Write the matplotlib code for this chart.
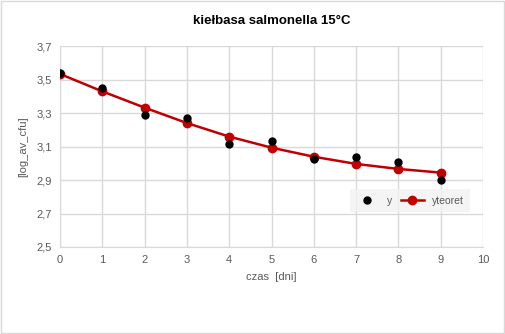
import matplotlib
matplotlib.use("Agg")
import matplotlib.pyplot as plt
from matplotlib.ticker import FuncFormatter, FixedLocator, MultipleLocator

# data
czas = [0, 1, 2, 3, 4, 5, 6, 7, 8, 9]
y_obs = [3.539, 3.447, 3.286, 3.272, 3.113, 3.131, 3.023, 3.035, 3.005, 2.898]
y_teoret = [3.533, 3.429, 3.332, 3.240, 3.159, 3.093, 3.039, 2.996, 2.966, 2.944]
y_ticks = [2.5, 2.7, 2.9, 3.1, 3.3, 3.5, 3.7]

TEXT = "#595959"
GRID = "#d9d9d9"
RED = "#c00000"

plt.rcParams["font.family"] = ["Liberation Sans Narrow", "Liberation Sans", "DejaVu Sans"]

fig = plt.figure(figsize=(5.05, 3.34), dpi=100)
ax = fig.add_axes([60 / 505, 87 / 334, 423 / 505, 201 / 334])

ax.plot(czas, y_teoret, color=RED, lw=1.8, marker="o", ms=6, zorder=3,
        label="yteoret")
ax.plot(czas, y_obs, ls="none", marker="o", color="black", ms=5, zorder=4,
        label="y")

ax.set_xlim(0, 10)
ax.set_ylim(2.5, 3.7)
ax.xaxis.set_major_locator(MultipleLocator(1))
ax.yaxis.set_major_locator(FixedLocator(y_ticks))
ax.yaxis.set_major_formatter(FuncFormatter(lambda v, _: f"{v:.1f}".replace(".", ",")))
ax.grid(True, color=GRID, lw=1)
ax.set_axisbelow(True)

for s in ["top", "right"]:
    ax.spines[s].set_visible(False)
for s in ["left", "bottom"]:
    ax.spines[s].set_color(GRID)
ax.tick_params(length=0, colors=TEXT, labelsize=8, pad=6)

ax.set_xlabel("czas  [dni]", color=TEXT, fontsize=8, labelpad=5)
ax.set_ylabel("[log_av_cfu]", color=TEXT, fontsize=8, labelpad=6)
ax.set_title("kiełbasa salmonella 15°C", color="black", fontsize=9.5,
             fontweight="bold", pad=16)

handles, labels = ax.get_legend_handles_labels()
leg = ax.legend(handles[::-1], labels[::-1], loc="lower right",
                bbox_to_anchor=(0.962, 0.19), ncol=2, frameon=True,
                fontsize=7.5, labelcolor=TEXT, handlelength=2.2,
                handletextpad=0.8, columnspacing=0.8, borderpad=0.3,
                borderaxespad=0)
leg.get_frame().set_facecolor("#f2f2f2")
leg.get_frame().set_edgecolor("none")
leg.get_frame().set_boxstyle("square")

# light frame round the whole chart
fig.patches.append(plt.Rectangle((0.002, 0.003), 0.996, 0.994,
                                 transform=fig.transFigure, fill=False,
                                 edgecolor=GRID, lw=1))

fig.savefig("out.png", dpi=100)
